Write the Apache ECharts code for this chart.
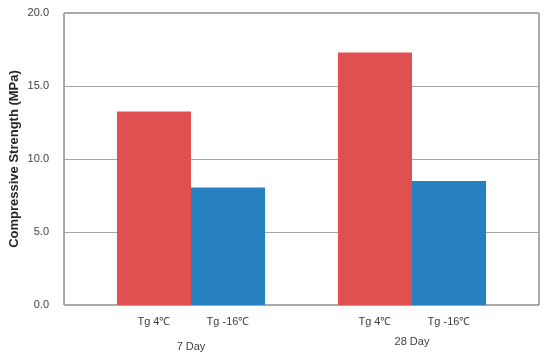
<!DOCTYPE html>
<html>
<head>
<meta charset="utf-8">
<script src="https://cdn.jsdelivr.net/npm/echarts@6/dist/echarts.min.js"></script>
<style>
html,body{margin:0;padding:0;background:#fff;}
#chart{width:550px;height:357px;}
</style>
</head>
<body>
<div id="chart"></div>
<script>
var groups = ['7 Day', '28 Day'];
var seriesNames = ['Tg 4\u2103', 'Tg -16\u2103'];
var tg4Values = [13.25, 17.3];
var tgMinus16Values = [8.05, 8.5];
var yTicks = [0, 5, 10, 15, 20];

var chart = echarts.init(document.getElementById('chart'));
var font = 'Liberation Sans, Arial, sans-serif';
chart.setOption({
  animation: false,
  backgroundColor: '#ffffff',
  grid: [
    {left: 64, right: 11, top: 13, bottom: 52, show: true, borderColor: '#595959', borderWidth: 1, backgroundColor: 'transparent', outerBoundsMode: 'none', containLabel: false},
    {left: 80.5, right: 27.5, top: 13, bottom: 52, outerBoundsMode: 'none', containLabel: false}
  ],
  xAxis: [
    {type: 'category', gridIndex: 0, data: [''], show: false},
    {type: 'category', gridIndex: 1, data: groups,
     axisLine: {show: false}, axisTick: {show: false},
     axisLabel: {margin: 31, fontSize: 11, color: '#404040', fontFamily: font,
       formatter: function (v, i) { return (i === 0 ? '{a|' : '{b|') + v + '}'; },
       rich: {a: {fontSize: 11, color: '#404040', fontFamily: font, padding: [5, 0, 0, 0]},
              b: {fontSize: 11, color: '#404040', fontFamily: font, padding: [0, 0, 0, 0]}}}}
  ],
  yAxis: [
    {type: 'value', gridIndex: 0, min: yTicks[0], max: yTicks[yTicks.length - 1], interval: 5,
     name: 'Compressive Strength (MPa)', nameLocation: 'middle', nameGap: 43, nameMoveOverlap: false,
     nameTextStyle: {fontSize: 13, fontWeight: 'bold', color: '#262626', fontFamily: font},
     axisLine: {show: true, lineStyle: {color: '#a6a6a6'}},
     axisTick: {show: false},
     splitLine: {show: true, lineStyle: {color: '#a6a6a6'}},
     axisLabel: {margin: 15, fontSize: 11, color: '#404040', fontFamily: font,
       formatter: function (v) { return v.toFixed(1); }}},
    {type: 'value', gridIndex: 1, min: 0, max: 20, show: false}
  ],
  series: [
    {name: seriesNames[0], type: 'bar', xAxisIndex: 1, yAxisIndex: 1, data: tg4Values,
     barGap: '0%', barCategoryGap: '33%',
     itemStyle: {color: '#df5050'},
     label: {show: true, position: 'bottom', distance: 11, formatter: '{a}', fontSize: 11, color: '#404040', fontFamily: font}},
    {name: seriesNames[1], type: 'bar', xAxisIndex: 1, yAxisIndex: 1, data: tgMinus16Values,
     barGap: '0%', barCategoryGap: '33%',
     itemStyle: {color: '#2680c2'},
     label: {show: true, position: 'bottom', distance: 11, formatter: '{a}', fontSize: 11, color: '#404040', fontFamily: font}}
  ]
});
</script>
</body>
</html>
